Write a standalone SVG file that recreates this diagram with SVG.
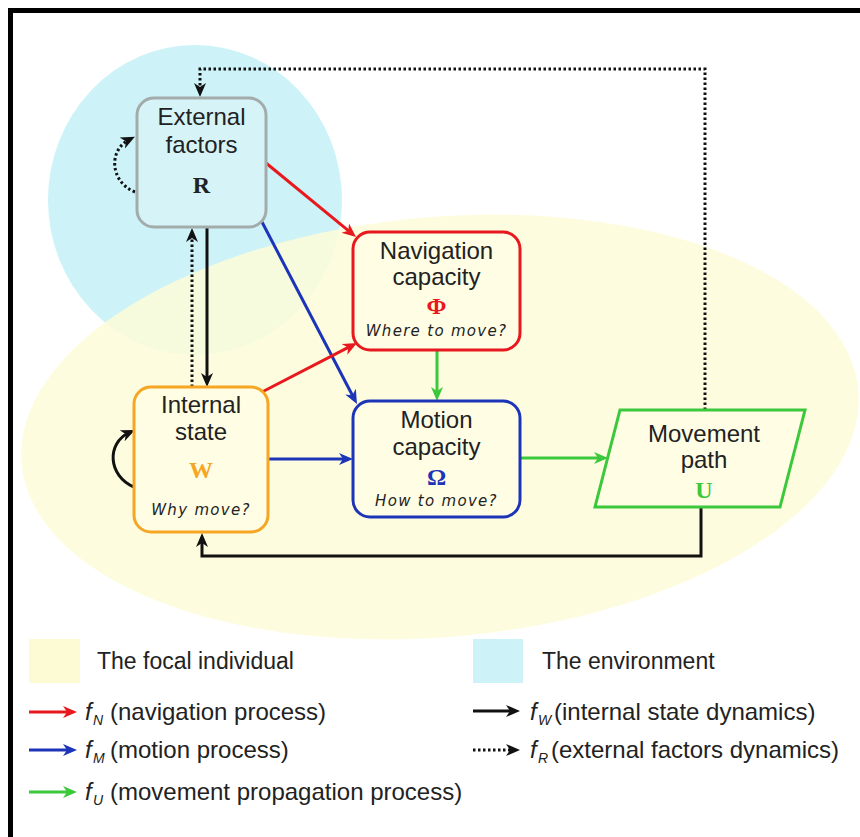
<svg xmlns="http://www.w3.org/2000/svg" width="860" height="837" viewBox="0 0 860 837">
<style>
.lbl{font-family:"Liberation Sans",Arial,sans-serif;font-size:24px;fill:#222;text-anchor:middle}
.sym{font-family:"Liberation Serif","Times New Roman",serif;font-size:24px;font-weight:bold;text-anchor:middle}
.q{font-family:"DejaVu Sans",Verdana,sans-serif;font-size:15px;font-style:italic;fill:#222;text-anchor:middle;letter-spacing:1.3px}
.leg{font-family:"Liberation Sans",Arial,sans-serif;font-size:23px;fill:#222}
.lp{font-family:"Liberation Sans",Arial,sans-serif;font-size:24px;fill:#222}
.it{font-style:italic}
.sub{font-family:"Liberation Sans",Arial,sans-serif;font-size:14px;font-style:italic;fill:#222}
.box{stroke-width:3}
.c{fill:none;stroke-width:3}
.dot{fill:none;stroke:#111;stroke-width:3;stroke-dasharray:2.5 2.5}
</style>
<defs>
<marker id="aR" markerUnits="userSpaceOnUse" viewBox="0 0 14 14" markerWidth="14" markerHeight="14" refX="8" refY="7" orient="auto"><path d="M0,1 L14,7 L0,13 L4,7 z" fill="#e8191e"/></marker>
<marker id="aB" markerUnits="userSpaceOnUse" viewBox="0 0 14 14" markerWidth="14" markerHeight="14" refX="8" refY="7" orient="auto"><path d="M0,1 L14,7 L0,13 L4,7 z" fill="#1c35b8"/></marker>
<marker id="aG" markerUnits="userSpaceOnUse" viewBox="0 0 14 14" markerWidth="14" markerHeight="14" refX="8" refY="7" orient="auto"><path d="M0,1 L14,7 L0,13 L4,7 z" fill="#3cc83c"/></marker>
<marker id="aK" markerUnits="userSpaceOnUse" viewBox="0 0 14 14" markerWidth="14" markerHeight="14" refX="8" refY="7" orient="auto"><path d="M0,1 L14,7 L0,13 L4,7 z" fill="#111"/></marker>
</defs>
<rect x="0" y="0" width="860" height="837" fill="#fff"/>
<path d="M10.5,837 V10.5 H860" fill="none" stroke="#000" stroke-width="5"/>
<g id="regions">
<ellipse cx="195" cy="200" rx="147" ry="155" fill="#cdf3f9"/>
<ellipse cx="440" cy="427" rx="420" ry="210" transform="rotate(-5 440 427)" fill="#fefcd8" fill-opacity="0.85"/>
</g>
<g id="connectors">
<path class="c" stroke="#e8191e" d="M266,163 L351.4,233.2" marker-end="url(#aR)"/>
<path class="c" stroke="#1c35b8" d="M262,222 L354.2,398.7" marker-end="url(#aB)"/>
<path class="c" stroke="#e8191e" d="M262,392 L351.7,345.7" marker-end="url(#aR)"/>
<path class="c" stroke="#1c35b8" d="M268,459 L347,459" marker-end="url(#aB)"/>
<path class="c" stroke="#3cc83c" d="M437,350 L437,395" marker-end="url(#aG)"/>
<path class="c" stroke="#3cc83c" d="M520,458 L602,458" marker-end="url(#aG)"/>
<path class="c" stroke="#111" d="M207,228 L207,381" marker-end="url(#aK)"/>
<path class="dot" d="M192,387 L192,234" marker-end="url(#aK)"/>
<path class="c" stroke="#111" d="M134,487 C108,476 106,443 129.5,432.5" marker-end="url(#aK)"/>
<path class="dot" d="M135,192 C110,182 108,150 129.5,139.5" marker-end="url(#aK)"/>
<path class="dot" d="M705,410 V69 H200 V91" marker-end="url(#aK)"/>
<path class="c" stroke="#111" d="M701,507 V556 H202 V539" marker-end="url(#aK)"/>
</g>
<g id="external-factors">
<rect class="box" x="137" y="98" width="129" height="129" rx="17" fill="#d6f4f8" stroke="#a3abab"/>
<text class="lbl" x="201.5" y="125">External</text>
<text class="lbl" x="201.5" y="153">factors</text>
<text class="sym" x="201.5" y="193" fill="#222">R</text>
</g>
<g id="navigation-capacity">
<rect class="box" x="353" y="232" width="167" height="118" rx="17" fill="#fffde4" stroke="#e8191e"/>
<text class="lbl" x="436.5" y="259">Navigation</text>
<text class="lbl" x="436.5" y="285">capacity</text>
<text class="sym" x="436.5" y="314" fill="#e8191e">Φ</text>
<text class="q" x="436.5" y="336">Where to move?</text>
</g>
<g id="motion-capacity">
<rect class="box" x="353" y="401" width="167" height="116" rx="17" fill="#fffde4" stroke="#1c35b8"/>
<text class="lbl" x="436.5" y="428">Motion</text>
<text class="lbl" x="436.5" y="455">capacity</text>
<text class="sym" x="436.5" y="485" fill="#1c35b8">Ω</text>
<text class="q" x="436.5" y="506">How to move?</text>
</g>
<g id="internal-state">
<rect class="box" x="134" y="387" width="134" height="145" rx="17" fill="#fffde4" stroke="#f5a623"/>
<text class="lbl" x="201" y="413">Internal</text>
<text class="lbl" x="201" y="440">state</text>
<text class="sym" x="201" y="478" fill="#f5a623">W</text>
<text class="q" x="201" y="515">Why move?</text>
</g>
<g id="movement-path">
<polygon class="box" points="620,410 805,410 780,507 595,507" fill="#fffde4" stroke="#3cc83c"/>
<text class="lbl" x="704" y="442">Movement</text>
<text class="lbl" x="704" y="468">path</text>
<text class="sym" x="704" y="498" fill="#3cc83c">U</text>
</g>
<g id="legend">
<rect x="29" y="639" width="51" height="44" fill="#fdfbd3"/>
<text class="leg" x="97" y="669">The focal individual</text>
<rect x="473" y="639" width="50" height="44" fill="#cdf3f9"/>
<text class="leg" x="542" y="669">The environment</text>
<path class="c" stroke="#e8191e" d="M29,712 H71" marker-end="url(#aR)"/>
<text class="lp it" x="85" y="720">f</text><text class="sub" x="93" y="725">N</text>
<text class="lp" x="110" y="720">(navigation process)</text>
<path class="c" stroke="#1c35b8" d="M29,750 H71" marker-end="url(#aB)"/>
<text class="lp it" x="85" y="758">f</text><text class="sub" x="93" y="763">M</text>
<text class="lp" x="110" y="758">(motion process)</text>
<path class="c" stroke="#3cc83c" d="M29,792 H71" marker-end="url(#aG)"/>
<text class="lp it" x="85" y="800">f</text><text class="sub" x="93" y="805">U</text>
<text class="lp" x="110" y="800">(movement propagation process)</text>
<path class="c" stroke="#111" d="M473,711 H514" marker-end="url(#aK)"/>
<text class="lp it" x="530" y="720">f</text><text class="sub" x="538" y="725">W</text>
<text class="lp" x="554" y="720">(internal state dynamics)</text>
<path class="dot" d="M473,750 H514" marker-end="url(#aK)"/>
<text class="lp it" x="530" y="758">f</text><text class="sub" x="538" y="763">R</text>
<text class="lp" x="551" y="758">(external factors dynamics)</text>
</g>
</svg>
